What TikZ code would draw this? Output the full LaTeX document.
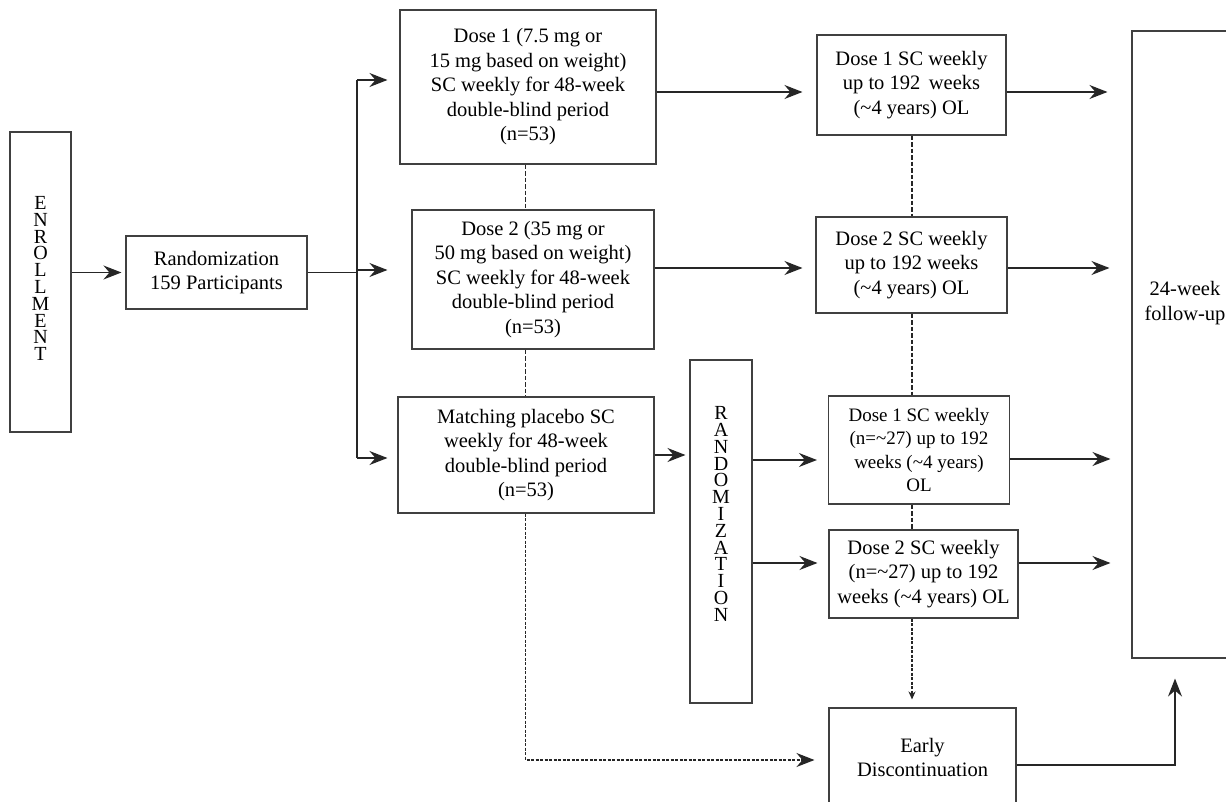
\documentclass[tikz,border=0pt]{standalone}
\usepackage{fontspec}
\setmainfont{Liberation Serif}
\usetikzlibrary{arrows.meta}
\lineskiplimit=-30pt
\tikzset{
  box/.style={draw=black!75, line width=1.1pt, align=center, inner sep=0pt,
    font=\fontsize{20.5}{24.5}\selectfont, text=black},
  vtext/.style={align=center, inner sep=0pt, font=\fontsize{20}{16.8}\selectfont},
  conn/.style={draw=black!85, line width=1.2pt},
  arr/.style={conn, -{Stealth[length=18pt,width=14pt,inset=6pt]}},
  dsh/.style={conn, dash pattern=on 4.5pt off 2pt},
  smallarr/.style={-{Stealth[length=8pt,width=7pt,inset=2.5pt]}}
}
\begin{document}
\begin{tikzpicture}[x=1pt,y=-1pt]
\useasboundingbox (0,0) rectangle (1226,802);
\clip (0,0) rectangle (1226,802);
\fill[white] (0,0) rectangle (1226,802);

% boxes
\node[box, minimum width=61pt, minimum height=300pt] (EN) at (40.5,282) {};
\node[vtext] (ENt) at (40.5,278.5) {E\\N\\R\\O\\L\\L\\M\\E\\N\\T};
\node[box, minimum width=181pt, minimum height=73pt] (R) at (216.5,272.5) {Randomization\\159 Participants};
\node[box, minimum width=256pt, minimum height=154pt] (D1) at (528,87) {Dose 1 (7.5 mg or\\15 mg based on weight)\\SC weekly for 48-week\\double-blind period\\(n=53)};
\node[box, minimum width=242pt, minimum height=139pt] (D2) at (533,279.5) {Dose 2 (35 mg or\\50 mg based on weight)\\SC weekly for 48-week\\double-blind period\\(n=53)};
\node[box, minimum width=256pt, minimum height=116pt] (PL) at (526,455) {Matching placebo SC\\weekly for 48-week\\double-blind period\\(n=53)};
\node[box, minimum width=62pt, minimum height=343pt] (RV) at (721,531.5) {};
\node[vtext] (RVt) at (721,514) {R\\A\\N\\D\\O\\M\\I\\Z\\A\\T\\I\\O\\N};
\node[box, minimum width=189pt, minimum height=100pt] (O1) at (911.5,85) {Dose 1 SC weekly\\up to 192\, weeks\\(\textasciitilde4 years) OL};
\node[box, minimum width=191pt, minimum height=96pt] (O2) at (911.5,265) {Dose 2 SC weekly\\up to 192 weeks\\(\textasciitilde4 years) OL};
\node[box, minimum width=181pt, minimum height=108pt, font=\fontsize{19}{23.5}\selectfont] (O3) at (919,450) {Dose 1 SC weekly\\(n=\textasciitilde27) up to 192\\weeks (\textasciitilde4 years)\\OL};
\node[box, minimum width=189pt, minimum height=88pt] (O4) at (923.5,574) {Dose 2 SC weekly\\(n=\textasciitilde27) up to 192\\weeks (\textasciitilde4 years) OL};
\node[box, minimum width=187pt, minimum height=104pt] (ED) at (922.5,760) {};
\node[box, draw=none] (EDt) at (922.5,757.5) {Early\\Discontinuation};
\node[box, minimum width=106pt, minimum height=627pt] (FU) at (1185,344.5) {};
\node[box, draw=none] (FUt) at (1185,303) {24-week\\follow-up};

% helper coordinates
\coordinate (br1) at (357,80);
\coordinate (br2) at (357,270);
\coordinate (br3) at (357,458);
\coordinate (dx) at (525.5,0);
\coordinate (rx) at (912,0);

% solid connectors
\draw[arr, shorten >=4pt] (EN.east |- R.west) -- (R.west);
\draw[conn] (R.east) -- (br2 |- R.east);
\draw[conn] (br1) -- (br3);
\draw[arr, shorten >=12pt] (br1) -- (br1 -| D1.west);
\draw[arr, shorten >=24pt] (br2) -- (br2 -| D2.west);
\draw[arr, shorten >=10pt] (br3) -- (br3 -| PL.west);

\draw[arr, shorten >=14pt] (D1.east |- 0,92) -- (O1.west |- 0,92);
\draw[arr, shorten >=13pt] (D2.east |- 0,268) -- (O2.west |- 0,268);
\draw[arr, shorten >=4pt] (PL.east |- 0,455) -- (RV.west |- 0,455);
\draw[arr, shorten >=11pt] (RV.east |- 0,460) -- (O3.west |- 0,460);
\draw[arr, shorten >=11pt] (RV.east |- 0,563) -- (O4.west |- 0,563);

\draw[arr, shorten >=24pt] (O1.east |- 0,92) -- (FU.west |- 0,92);
\draw[arr, shorten >=22pt] (O2.east |- 0,268) -- (FU.west |- 0,268);
\draw[arr, shorten >=21pt] (O3.east |- 0,459) -- (FU.west |- 0,459);
\draw[arr, shorten >=21pt] (O4.east |- 0,563) -- (FU.west |- 0,563);
\draw[arr, shorten >=20pt] (ED.east |- 0,765) -| ([xshift=-10pt]FU.south);

% dashed connectors
\draw[dsh] (D1.south -| dx) -- (D2.north -| dx);
\draw[dsh] (D2.south -| dx) -- (PL.north -| dx);
\draw[arr, dash pattern=on 3pt off 1.5pt, shorten >=14pt] (PL.south -| dx) |- (ED.west);
\draw[dsh] (O1.south -| rx) -- (O2.north -| rx);
\draw[dsh] (O2.south -| rx) -- (O3.north -| rx);
\draw[dsh] (O3.south -| rx) -- (O4.north -| rx);
\draw[dsh, dash pattern=on 3pt off 1.5pt, smallarr, shorten >=8pt] (O4.south -| rx) -- (ED.north -| rx);
\end{tikzpicture}
\end{document}
